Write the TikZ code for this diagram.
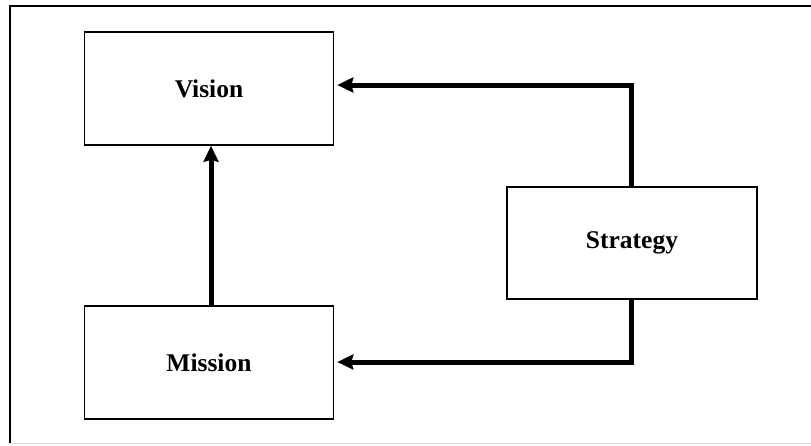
\documentclass[tikz,border=0pt]{standalone}
\usepackage{fontspec}
\setmainfont{Liberation Serif}
\usetikzlibrary{arrows.meta}
\begin{document}
\begin{tikzpicture}[x=1pt,y=-1pt,
  box/.style={draw, line width=1.6pt, inner sep=0pt, minimum width=249pt, minimum height=113pt,
    font=\fontsize{25.5}{30}\selectfont\bfseries},
  flow/.style={line width=5pt, -{Stealth[length=16pt,width=15pt,inset=2pt]}}]
  \useasboundingbox (0,0) rectangle (811,445);
  % page frame: top and left rules, faint bottom rule
  \draw[line width=1.6pt] (811,6) -- (10,6) -- (10,443);
  \draw[line width=0.8pt, black!12] (10,443) -- (811,443);
  % boxes
  \node[box] (vision) at (209,88.5) {Vision};
  \node[box] (mission) at (209,362.5) {Mission};
  \node[box, minimum width=250pt, minimum height=112pt] (strategy) at (632,243) {Strategy};
  % connectors
  \coordinate (vin) at (vision.east |- 0,85);
  \coordinate (min) at (mission.east |- 0,362);
  \coordinate (sx) at (631,0);
  \draw[flow] (mission.north -| 211,0) -- (vision.south -| 211,0);
  \draw[flow] (strategy.north -| sx) |- ([xshift=3pt]vin);
  \draw[flow] (strategy.south -| sx) |- ([xshift=3pt]min);
\end{tikzpicture}
\end{document}
